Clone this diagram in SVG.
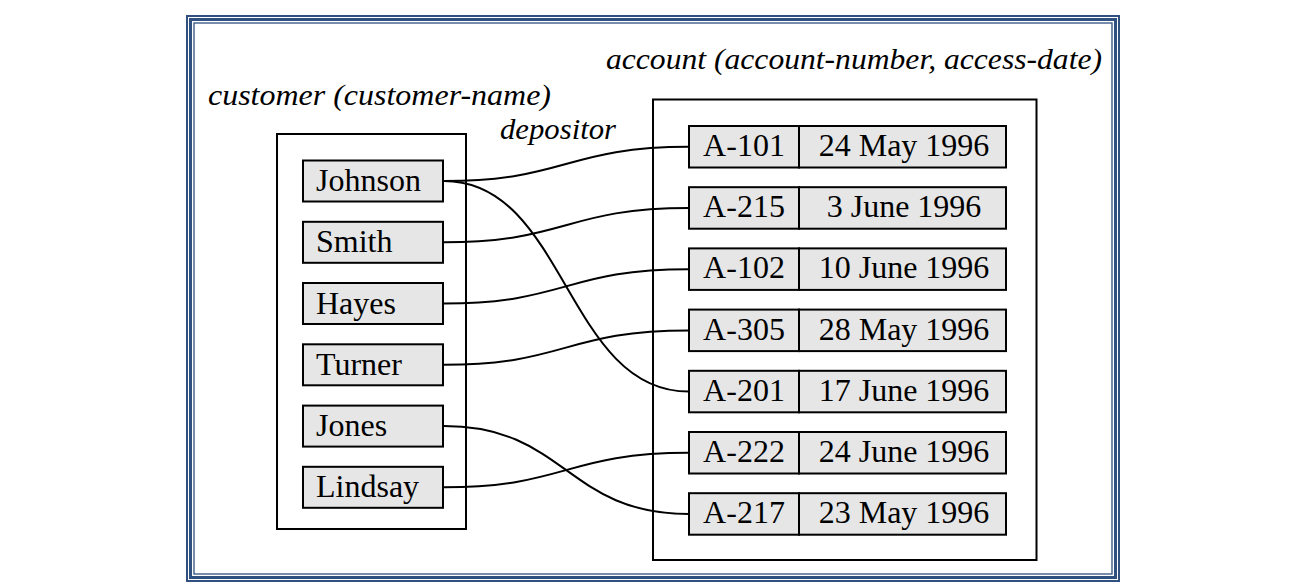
<svg xmlns="http://www.w3.org/2000/svg" width="1316" height="586" viewBox="0 0 1316 586">
<style>
.frame{fill:none;stroke:#30507f}
.box{fill:none;stroke:#000;stroke-width:2}
.cell{fill:#e6e6e6;stroke:#000;stroke-width:2}
.lbl{font-family:"Liberation Serif",serif;font-size:32px;fill:#000}
.ttl{font-family:"Liberation Serif",serif;font-style:italic;font-size:29px;fill:#000}
.mid{text-anchor:middle}
.conn{fill:none;stroke:#000;stroke-width:2}
</style>
<rect width="1316" height="586" fill="#fff"/>
<g id="frame">
<rect class="frame" x="187" y="16" width="932" height="565" stroke-width="2"/>
<rect class="frame" x="190.5" y="19.5" width="925" height="558" stroke-width="3"/>
<rect class="frame" x="194" y="23" width="918" height="551" stroke-width="1.3"/>
</g>
<g id="titles">
<text class="ttl" x="208" y="105" textLength="343" lengthAdjust="spacingAndGlyphs">customer (customer-name)</text>
<text class="ttl" x="606" y="69" textLength="496" lengthAdjust="spacingAndGlyphs">account (account-number, access-date)</text>
<text class="ttl" x="500" y="139" textLength="116" lengthAdjust="spacingAndGlyphs">depositor</text>
</g>
<g id="customer">
<rect class="box" x="277" y="134" width="189" height="395"/>
<g id="c-johnson"><rect class="cell" x="303" y="160.5" width="140" height="41"/><text class="lbl" x="316" y="191">Johnson</text></g>
<g id="c-smith"><rect class="cell" x="303" y="221.8" width="140" height="41"/><text class="lbl" x="316" y="252.3">Smith</text></g>
<g id="c-hayes"><rect class="cell" x="303" y="283" width="140" height="41"/><text class="lbl" x="316" y="313.5">Hayes</text></g>
<g id="c-turner"><rect class="cell" x="303" y="344.3" width="140" height="41"/><text class="lbl" x="316" y="374.8">Turner</text></g>
<g id="c-jones"><rect class="cell" x="303" y="405.6" width="140" height="41"/><text class="lbl" x="316" y="436.1">Jones</text></g>
<g id="c-lindsay"><rect class="cell" x="303" y="466.8" width="140" height="41"/><text class="lbl" x="316" y="497.3">Lindsay</text></g>
</g>
<g id="account">
<rect class="box" x="653" y="99.5" width="383.5" height="460.5"/>
<g id="a-101"><rect class="cell" x="689" y="126" width="110" height="41.5"/><rect class="cell" x="799" y="126" width="207" height="41.5"/><text class="lbl mid" x="744" y="156">A-101</text><text class="lbl mid" x="904" y="156">24 May 1996</text></g>
<g id="a-215"><rect class="cell" x="689" y="187.2" width="110" height="41.5"/><rect class="cell" x="799" y="187.2" width="207" height="41.5"/><text class="lbl mid" x="744" y="217.2">A-215</text><text class="lbl mid" x="904" y="217.2">3 June 1996</text></g>
<g id="a-102"><rect class="cell" x="689" y="248.4" width="110" height="41.5"/><rect class="cell" x="799" y="248.4" width="207" height="41.5"/><text class="lbl mid" x="744" y="278.4">A-102</text><text class="lbl mid" x="904" y="278.4">10 June 1996</text></g>
<g id="a-305"><rect class="cell" x="689" y="309.6" width="110" height="41.5"/><rect class="cell" x="799" y="309.6" width="207" height="41.5"/><text class="lbl mid" x="744" y="339.6">A-305</text><text class="lbl mid" x="904" y="339.6">28 May 1996</text></g>
<g id="a-201"><rect class="cell" x="689" y="370.8" width="110" height="41.5"/><rect class="cell" x="799" y="370.8" width="207" height="41.5"/><text class="lbl mid" x="744" y="400.8">A-201</text><text class="lbl mid" x="904" y="400.8">17 June 1996</text></g>
<g id="a-222"><rect class="cell" x="689" y="432" width="110" height="41.5"/><rect class="cell" x="799" y="432" width="207" height="41.5"/><text class="lbl mid" x="744" y="462">A-222</text><text class="lbl mid" x="904" y="462">24 June 1996</text></g>
<g id="a-217"><rect class="cell" x="689" y="493.2" width="110" height="41.5"/><rect class="cell" x="799" y="493.2" width="207" height="41.5"/><text class="lbl mid" x="744" y="523.2">A-217</text><text class="lbl mid" x="904" y="523.2">23 May 1996</text></g>
</g>
<g id="connectors">
<path class="conn" d="M444,181 C566,181 566,146.8 689,146.8"/>
<path class="conn" d="M444,181 C566,181 566,391.6 689,391.6"/>
<path class="conn" d="M444,242.3 C566,242.3 566,208 689,208"/>
<path class="conn" d="M444,303.5 C566,303.5 566,269.2 689,269.2"/>
<path class="conn" d="M444,364.8 C566,364.8 566,330.4 689,330.4"/>
<path class="conn" d="M444,426.1 C566,426.1 566,514 689,514"/>
<path class="conn" d="M444,487.3 C566,487.3 566,452.8 689,452.8"/>
</g>
</svg>
